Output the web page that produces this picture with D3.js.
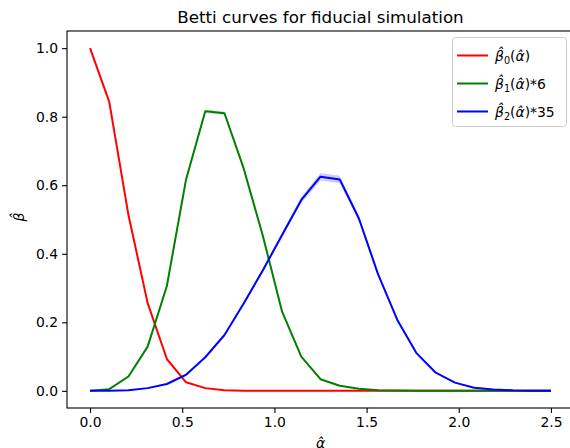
<!DOCTYPE html>
<html>
<head>
<meta charset="utf-8">
<script src="https://cdn.jsdelivr.net/npm/d3@7"></script>
<style>
  body { margin: 0; background: #fff; }
  svg { font-family: "DejaVu Sans", sans-serif; }
</style>
</head>
<body>
<svg id="chart" width="570" height="448"></svg>
<script>
// alpha grid: 25 points from 0 to 2.5
const alphas = d3.range(25).map(i => i * 2.5 / 24);

const beta0 = [1.0, 0.843, 0.513, 0.256, 0.093, 0.025, 0.008, 0.002, 0.0005, 0.0002,
  0, 0, 0, 0, 0, 0, 0, 0, 0, 0, 0, 0, 0, 0, 0];
const beta1 = [0, 0.005, 0.042, 0.129, 0.306, 0.617, 0.816, 0.81, 0.649, 0.452,
  0.231, 0.1, 0.034, 0.015, 0.006, 0.002, 0.001, 0.0005, 0.0002, 0, 0, 0, 0, 0, 0];
const beta2 = [0, 0.0005, 0.002, 0.008, 0.02, 0.047, 0.098, 0.163, 0.255, 0.352,
  0.455, 0.557, 0.625, 0.617, 0.503, 0.34, 0.207, 0.11, 0.053, 0.024,
  0.009, 0.004, 0.0015, 0.0005, 0];
// spread (shaded band)
const err1 = [0, 0, 0.001, 0.002, 0.003, 0.004, 0.005, 0.005, 0.004, 0.003,
  0.002, 0.001, 0.001, 0, 0, 0, 0, 0, 0, 0, 0, 0, 0, 0, 0];
const err2 = [0, 0, 0, 0, 0.001, 0.002, 0.003, 0.004, 0.005, 0.006,
  0.007, 0.009, 0.011, 0.011, 0.008, 0.005, 0.003, 0.002, 0.001, 0, 0, 0, 0, 0, 0];

const xTicks = [0, 0.5, 1.0, 1.5, 2.0, 2.5];
const yTicks = [0, 0.2, 0.4, 0.6, 0.8, 1.0];

const series = [
  { vals: beta0, err: null, color: "red", sub: "0", suffix: "" },
  { vals: beta1, err: err1, color: "green", sub: "1", suffix: "*6" },
  { vals: beta2, err: err2, color: "blue", sub: "2", suffix: "*35" }
];

const svg = d3.select("#chart");
const m = { left: 67, right: 574, top: 31, bottom: 408 };

const x = d3.scaleLinear().domain([-0.125, 2.625]).range([m.left, m.right]);
const y = d3.scaleLinear().domain([-0.05, 1.05]).range([m.bottom, m.top]);

svg.append("rect").attr("width", 570).attr("height", 448).attr("fill", "#fff");

// bands
series.filter(s => s.err).forEach(s => {
  const area = d3.area()
    .x((d, i) => x(alphas[i]))
    .y0((d, i) => y(d - s.err[i]))
    .y1((d, i) => y(d + s.err[i]));
  svg.append("path").datum(s.vals)
    .attr("d", area)
    .attr("fill", s.color)
    .attr("opacity", 0.2);
});

// lines
const line = d3.line().x((d, i) => x(alphas[i])).y(d => y(d));
series.forEach(s => {
  svg.append("path").datum(s.vals)
    .attr("d", line)
    .attr("fill", "none")
    .attr("stroke", s.color)
    .attr("stroke-width", 2)
    .attr("stroke-linejoin", "round");
});

// axes
const xAxis = svg.append("g")
  .attr("transform", `translate(0,${m.bottom})`)
  .call(d3.axisBottom(x).tickValues(xTicks).tickFormat(d3.format(".1f")).tickSizeInner(4.9).tickSizeOuter(0).tickPadding(4));
const yAxis = svg.append("g")
  .attr("transform", `translate(${m.left},0)`)
  .call(d3.axisLeft(y).tickValues(yTicks).tickFormat(d3.format(".1f")).tickSizeInner(4.9).tickSizeOuter(0).tickPadding(4));
[xAxis, yAxis].forEach(a => {
  a.selectAll("text").attr("font-size", 13.9).attr("fill", "#000").attr("font-family", "DejaVu Sans");
  a.selectAll("line").attr("stroke", "#000").attr("stroke-width", 1.1);
  a.select(".domain").remove();
});

// spines
svg.append("rect")
  .attr("x", m.left).attr("y", m.top)
  .attr("width", m.right - m.left).attr("height", m.bottom - m.top)
  .attr("fill", "none").attr("stroke", "#000").attr("stroke-width", 1.1);

// title
svg.append("text")
  .attr("x", (m.left + m.right) / 2).attr("y", 23)
  .attr("text-anchor", "middle")
  .attr("font-size", 16.7)
  .text("Betti curves for fiducial simulation");

// axis labels
svg.append("text")
  .attr("x", (m.left + m.right) / 2).attr("y", 448)
  .attr("text-anchor", "middle")
  .attr("font-size", 14)
  .attr("font-style", "italic")
  .text("\u03b1\u0302");

svg.append("text")
  .attr("transform", "translate(24,217) rotate(-90)")
  .attr("text-anchor", "middle")
  .attr("font-size", 14)
  .attr("font-style", "italic")
  .text("\u03b2\u0302");

// legend
const lg = svg.append("g");
lg.append("rect")
  .attr("x", 452.5).attr("y", 37.5).attr("width", 114).attr("height", 89)
  .attr("rx", 3)
  .attr("fill", "#fff").attr("fill-opacity", 0.8)
  .attr("stroke", "#ccc").attr("stroke-width", 1);

series.forEach((s, i) => {
  const ly = 55.5 + i * 28;
  lg.append("line")
    .attr("x1", 457).attr("x2", 488)
    .attr("y1", ly).attr("y2", ly)
    .attr("stroke", s.color).attr("stroke-width", 2);
  const t = lg.append("text")
    .attr("x", 495).attr("y", ly + 5)
    .attr("font-size", 13.9);
  t.append("tspan").attr("font-style", "italic").text("\u03b2\u0302");
  t.append("tspan").attr("font-size", 9.7).attr("dy", 3).text(s.sub);
  t.append("tspan").attr("dy", -3).text("(");
  t.append("tspan").attr("font-style", "italic").text("\u03b1\u0302");
  t.append("tspan").text(")" + s.suffix);
});
</script>
</body>
</html>
